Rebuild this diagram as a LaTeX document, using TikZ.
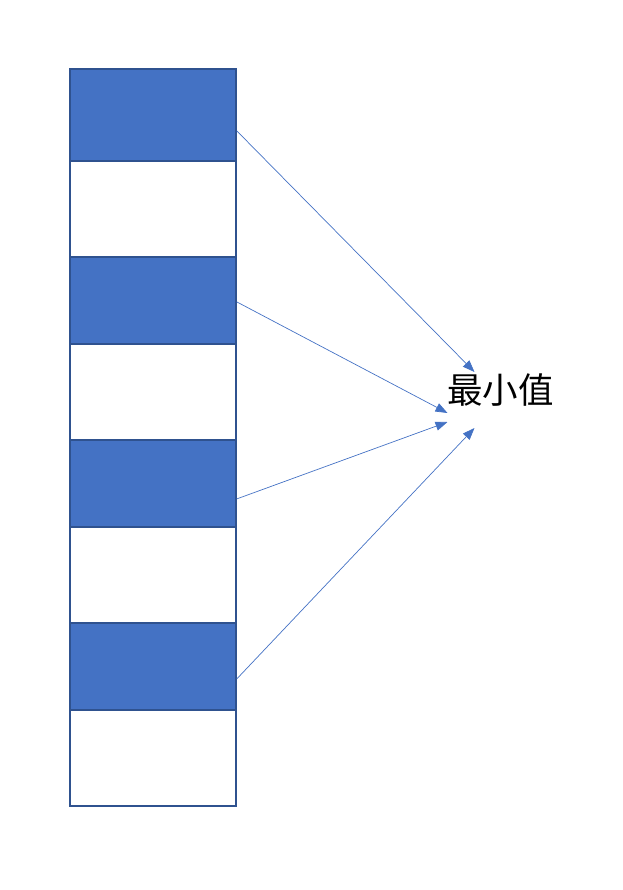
\documentclass[tikz,border=0pt]{standalone}
\usepackage{fontspec}
\newfontfamily\cjk{Noto Sans CJK SC}
\usetikzlibrary{arrows.meta}
\definecolor{cellblue}{HTML}{4472C4}
\definecolor{celledge}{HTML}{2F528F}

\begin{document}
\begin{tikzpicture}[
    x=1pt, y=-1pt,
    cell/.style={draw=celledge, line width=1.8pt, minimum width=166pt, inner sep=0pt, anchor=north west},
    full/.style={cell, fill=cellblue},
    link/.style={-{Triangle[length=12pt,width=9pt]}, cellblue, line width=0.7pt}
]
    \useasboundingbox (0,0) rectangle (622,890);

    % Column of cells
    \node[full, minimum height=92pt] (b1) at (69,68) {};
    \node[cell, minimum height=96pt] (b2) at (69,160) {};
    \node[full, minimum height=87pt] (b3) at (69,256) {};
    \node[cell, minimum height=96pt] (b4) at (69,343) {};
    \node[full, minimum height=87pt] (b5) at (69,439) {};
    \node[cell, minimum height=96pt] (b6) at (69,526) {};
    \node[full, minimum height=87pt] (b7) at (69,622) {};
    \node[cell, minimum height=96pt] (b8) at (69,709) {};

    % Target
    \node[font=\cjk\fontsize{35.5}{35.5}\selectfont] (min) at (500.5,390) {最小值};

    % Arrows
    \draw[link] ([yshift=-16pt]b1.east) -- ([shift={(-26pt,18pt)}]min.center);
    \draw[link] ([yshift=-1.5pt]b3.east) -- ([shift={(-53pt,-23pt)}]min.center);
    \draw[link] ([yshift=-15.5pt]b5.east) -- ([shift={(-53pt,-32pt)}]min.center);
    \draw[link] ([yshift=-12.5pt]b7.east) -- ([shift={(-26pt,-38pt)}]min.center);
\end{tikzpicture}
\end{document}
